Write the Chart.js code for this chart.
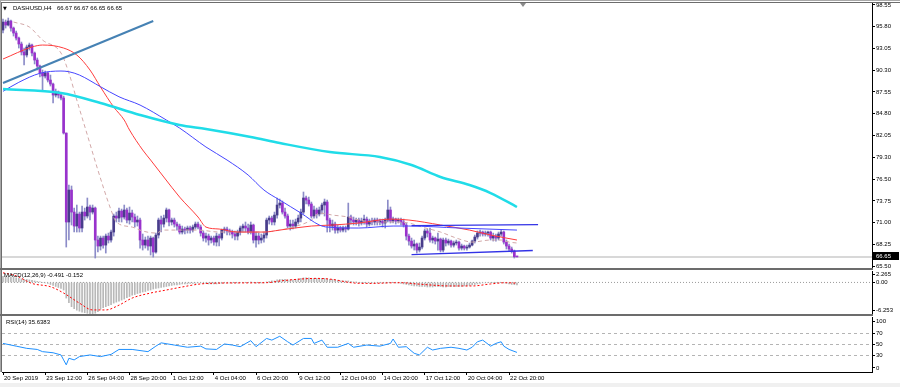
<!DOCTYPE html>
<html>
<head>
<meta charset="utf-8">
<script src="https://cdn.jsdelivr.net/npm/chart.js@4.4.1/dist/chart.umd.min.js"></script>
<style>
  html, body { margin: 0; padding: 0; background: #fff; }
  #wrap { position: relative; width: 900px; height: 387px; overflow: hidden; background: #fff; font-family: "Liberation Sans", Arial, sans-serif; }
  canvas { position: absolute; left: 0; }
  .ln { position: absolute; }
  .lbl { position: absolute; font-size: 6px; line-height: 8px; color: #000; white-space: pre; }
  .shift { position: absolute; left: 520px; top: 3px; width: 0; height: 0; border-left: 3px solid transparent; border-right: 3px solid transparent; border-top: 4px solid #8a8a8a; }
</style>
</head>
<body>
<div id="wrap">
  <canvas id="price" width="900" height="270" style="top:0"></canvas>
  <canvas id="macd" width="900" height="46" style="top:270px"></canvas>
  <canvas id="rsi" width="900" height="71" style="top:316px"></canvas>

  <div class="ln" style="left:0;top:0;width:900px;height:1px;background:#a8a8a8"></div>
  <div class="ln" style="left:0;top:2px;width:900px;height:1px;background:#6c6c6c"></div>
  <div class="ln" style="left:0;top:0;width:1px;height:372px;background:#a8a8a8"></div>
  <div class="ln" style="left:1px;top:2px;width:1px;height:370px;background:#6c6c6c"></div>
  <div class="ln" style="left:0;top:268px;width:873px;height:2px;background:#6c6c6c"></div>
  <div class="ln" style="left:0;top:314px;width:873px;height:2px;background:#6c6c6c"></div>
  <div class="ln" style="left:0;top:383px;width:900px;height:4px;background:#f0f0f0"></div>
  <div class="shift"></div>

  <div class="lbl" style="left:3px;top:4px;font-family:'DejaVu Sans';font-size:5px">▼</div>
  <div class="lbl" style="left:13px;top:4px">DASHUSD,H4</div>
  <div class="lbl" style="left:57px;top:4px">66.67 66.67 66.65 66.65</div>
  <div class="lbl" style="left:4px;top:271px">MACD(12,26,9) -0.491 -0.152</div>
  <div class="lbl" style="left:6px;top:318px">RSI(14) 35.6383</div>
</div>

<script>
// H4 candles, bar 0 = 20 Sep 2019 20:00
const opens = [
  95.38, 96.39, 96.01, 96.52, 95.63, 95.00, 94.37, 93.61, 92.60, 92.22,
  93.23, 93.48, 92.47, 91.58, 90.82, 89.94, 89.56, 89.94, 89.05, 88.54,
  87.15, 87.53, 87.15, 86.77, 82.34, 71.07, 75.12, 72.33, 70.56, 72.08,
  70.31, 72.33, 71.83, 72.97, 72.33, 72.84, 68.79, 68.03, 69.04, 68.15,
  69.29, 68.79, 69.80, 71.83, 71.57, 72.46, 71.70, 72.59, 71.32, 72.21,
  71.70, 71.07, 71.32, 68.79, 68.15, 68.79, 68.03, 69.04, 67.27, 69.42,
  71.32, 70.81, 71.57, 72.59, 71.07, 71.32, 70.81, 70.56, 69.80, 70.18,
  70.05, 70.31, 70.05, 70.43, 70.81, 70.43, 69.67, 69.04, 69.29, 68.79,
  69.04, 68.53, 69.29, 69.04, 70.05, 70.18, 69.93, 69.80, 69.55, 69.29,
  69.80, 70.31, 70.56, 70.31, 69.80, 70.69, 68.79, 69.29, 68.79, 69.04,
  69.42, 71.32, 71.57, 71.07, 71.95, 73.22, 73.47, 72.33, 71.83, 70.56,
  70.81, 70.56, 71.07, 71.57, 72.33, 74.11, 73.85, 73.35, 71.83, 72.59,
  72.08, 72.59, 73.22, 73.60, 71.32, 70.56, 70.81, 70.05, 70.31, 70.05,
  70.31, 70.18, 71.70, 71.32, 71.07, 71.32, 70.94, 71.19, 71.44, 70.81,
  71.19, 71.07, 71.32, 71.07, 71.19, 70.94, 71.32, 72.59, 71.19, 71.44,
  71.19, 71.32, 71.07, 70.69, 69.29, 68.66, 68.03, 68.28, 67.52, 67.90,
  69.04, 69.93, 69.67, 68.79, 69.04, 68.66, 68.91, 67.52, 68.79, 68.41,
  68.66, 68.15, 68.41, 68.53, 67.77, 68.03, 67.77, 67.90, 68.15, 68.66,
  69.17, 69.67, 69.80, 69.55, 69.67, 69.80, 69.04, 69.29, 69.04, 69.55,
  69.80, 68.53, 68.03, 67.65, 67.39, 66.67
];
const highs = [
  96.77, 96.65, 96.90, 96.65, 95.76, 95.25, 94.49, 93.86, 93.10, 93.48,
  93.73, 93.61, 92.60, 91.84, 90.95, 90.32, 90.19, 90.06, 89.68, 88.67,
  87.91, 87.66, 87.40, 87.02, 82.34, 75.75, 75.63, 72.84, 73.22, 72.33,
  73.09, 72.84, 74.11, 73.22, 73.22, 72.97, 69.29, 69.29, 69.29, 69.55,
  69.67, 70.05, 72.08, 72.33, 72.84, 72.71, 73.22, 72.84, 72.97, 72.59,
  72.08, 71.83, 71.57, 69.55, 69.17, 69.29, 69.29, 69.17, 69.67, 71.57,
  71.83, 71.95, 72.84, 72.71, 71.57, 71.57, 71.07, 70.81, 70.56, 70.43,
  70.56, 70.56, 70.69, 71.07, 71.07, 70.69, 69.93, 69.67, 69.55, 69.29,
  69.29, 69.67, 69.55, 70.18, 70.43, 70.43, 70.18, 70.05, 69.93, 70.05,
  70.56, 70.81, 71.07, 70.81, 71.07, 70.81, 69.80, 69.67, 69.55, 69.80,
  71.57, 71.83, 71.83, 72.33, 74.11, 73.98, 73.73, 72.84, 72.08, 71.32,
  71.32, 71.44, 71.95, 72.71, 74.87, 74.36, 74.23, 73.60, 73.09, 72.84,
  72.97, 73.47, 73.98, 73.85, 71.57, 71.32, 71.07, 70.69, 70.56, 70.56,
  70.56, 73.47, 71.95, 71.70, 71.57, 71.57, 71.57, 71.95, 71.70, 71.44,
  71.57, 71.57, 71.57, 71.44, 71.44, 71.57, 73.85, 72.97, 71.70, 71.57,
  71.57, 71.57, 71.44, 70.94, 69.55, 69.04, 68.79, 68.41, 68.41, 69.29,
  70.18, 70.18, 70.31, 69.29, 69.17, 69.67, 69.04, 69.04, 69.04, 68.91,
  68.79, 68.66, 68.79, 68.66, 68.28, 68.15, 68.15, 68.41, 68.79, 69.42,
  69.93, 70.05, 69.93, 69.93, 69.93, 69.93, 69.67, 69.55, 69.80, 70.05,
  69.93, 68.79, 68.28, 67.90, 67.52, 66.67
];
const lows = [
  95.00, 95.63, 95.89, 95.25, 94.62, 94.11, 93.10, 92.22, 90.95, 91.96,
  92.85, 92.09, 91.08, 90.32, 89.43, 87.78, 89.30, 88.80, 88.29, 86.14,
  86.90, 86.77, 86.52, 82.21, 67.90, 68.79, 70.69, 69.80, 69.80, 69.80,
  69.80, 71.32, 71.57, 71.32, 72.08, 66.51, 67.27, 67.52, 67.77, 67.14,
  68.41, 68.53, 69.29, 71.07, 71.07, 71.07, 71.44, 70.94, 70.81, 71.07,
  70.43, 70.56, 67.77, 67.52, 67.77, 67.52, 66.89, 66.63, 67.14, 69.04,
  69.80, 70.43, 71.07, 70.56, 70.69, 70.43, 70.05, 69.55, 69.55, 69.55,
  69.67, 69.67, 69.80, 70.18, 70.18, 69.29, 68.66, 68.53, 68.15, 68.41,
  68.15, 68.03, 68.03, 68.79, 69.67, 69.42, 69.42, 69.04, 68.79, 68.79,
  69.42, 69.80, 69.80, 69.55, 69.55, 68.41, 67.90, 68.28, 68.41, 68.53,
  69.04, 70.81, 70.69, 70.69, 71.57, 72.84, 72.08, 71.57, 70.31, 70.05,
  70.18, 70.31, 70.81, 71.07, 72.08, 73.35, 73.09, 71.57, 71.57, 71.57,
  71.83, 72.08, 71.83, 69.80, 69.80, 70.05, 69.67, 69.67, 69.80, 69.80,
  69.80, 70.05, 70.81, 70.69, 70.69, 70.56, 70.69, 70.81, 70.43, 70.56,
  70.69, 70.69, 70.69, 70.69, 70.43, 70.31, 71.07, 70.94, 70.94, 70.81,
  70.94, 70.69, 70.43, 68.79, 68.15, 67.77, 67.52, 67.14, 67.27, 67.65,
  68.79, 69.17, 68.53, 68.41, 68.28, 67.52, 67.27, 67.27, 68.03, 68.15,
  67.90, 67.90, 68.15, 67.52, 67.52, 67.52, 67.52, 67.77, 68.03, 68.41,
  68.91, 69.29, 69.29, 69.29, 69.29, 68.79, 68.66, 68.66, 68.79, 69.29,
  68.28, 67.65, 67.39, 67.14, 66.51, 66.65
];
const closes = [
  96.39, 96.01, 96.52, 95.63, 95.00, 94.37, 93.61, 92.60, 92.22, 93.23,
  93.48, 92.47, 91.58, 90.82, 89.94, 89.56, 89.94, 89.05, 88.54, 87.15,
  87.53, 87.15, 86.77, 82.34, 71.07, 75.12, 72.33, 70.56, 72.08, 70.31,
  72.33, 71.83, 72.97, 72.33, 72.84, 68.79, 68.03, 69.04, 68.15, 69.29,
  68.79, 69.80, 71.83, 71.57, 72.46, 71.70, 72.59, 71.32, 72.21, 71.70,
  71.07, 71.32, 68.79, 68.15, 68.79, 68.03, 69.04, 67.27, 69.42, 71.32,
  70.81, 71.57, 72.59, 71.07, 71.32, 70.81, 70.56, 69.80, 70.18, 70.05,
  70.31, 70.05, 70.43, 70.81, 70.43, 69.67, 69.04, 69.29, 68.79, 69.04,
  68.53, 69.29, 69.04, 70.05, 70.18, 69.93, 69.80, 69.55, 69.29, 69.80,
  70.31, 70.56, 70.31, 69.80, 70.69, 68.79, 69.29, 68.79, 69.04, 69.42,
  71.32, 71.57, 71.07, 71.95, 73.22, 73.47, 72.33, 71.83, 70.56, 70.81,
  70.56, 71.07, 71.57, 72.33, 74.11, 73.85, 73.35, 71.83, 72.59, 72.08,
  72.59, 73.22, 73.60, 71.32, 70.56, 70.81, 70.05, 70.31, 70.05, 70.31,
  70.18, 71.70, 71.32, 71.07, 71.32, 70.94, 71.19, 71.44, 70.81, 71.19,
  71.07, 71.32, 71.07, 71.19, 70.94, 71.32, 72.59, 71.19, 71.44, 71.19,
  71.32, 71.07, 70.69, 69.29, 68.66, 68.03, 68.28, 67.52, 67.90, 69.04,
  69.93, 69.67, 68.79, 69.04, 68.66, 68.91, 67.52, 68.79, 68.41, 68.66,
  68.15, 68.41, 68.53, 67.77, 68.03, 67.77, 67.90, 68.15, 68.66, 69.17,
  69.67, 69.80, 69.55, 69.67, 69.80, 69.04, 69.29, 69.04, 69.55, 69.80,
  68.53, 68.03, 67.65, 67.39, 66.67, 66.65
];
const lastPrice = 66.65;

// moving averages, read at [bar, price]
const maSlow = [[0,87.91],[22,87.40],[37,86.14],[52,84.62],[67,83.35],[77,82.84],[94,81.83],[105,81.07],
  [124,79.93],[143,79.30],[155,78.29],[166,76.77],[177,75.75],[185,74.74],[195,72.97]];
const maBlue = [[0,87.62],[6,88.76],[14,89.90],[22,90.19],[25,90.10],[29,89.68],[37,88.20],[44,86.93],
  [52,85.88],[62,83.98],[67,82.97],[77,80.57],[85,78.92],[93,77.02],[99,75.12],[105,73.85],[113,72.21],
  [120,70.69],[123,70.43],[135,70.31],[148,70.56],[154,70.56],[173,70.31],[195,70.05]];
const maRed = [[0,91.71],[11,93.23],[15,93.48],[23,93.10],[28,92.22],[33,90.32],[37,88.16],[42,85.63],
  [46,83.98],[48,82.72],[53,80.19],[56,78.92],[61,76.77],[67,74.23],[74,71.70],[77,70.43],[82,70.18],
  [89,69.80],[99,69.80],[105,70.05],[117,70.56],[125,70.69],[135,70.94],[147,71.44],[154,71.32],
  [166,70.69],[177,70.05],[185,69.42],[195,68.79]];
const maFast = [[4,96.39],[10,95.76],[15,94.11],[22,92.47],[25,89.94],[28,86.52],[32,82.09],[36,77.65],
  [41,72.59],[43,71.07],[49,70.43],[53,69.93],[58,69.67],[61,70.05],[68,70.05],[74,70.05],[82,69.80],
  [99,69.80],[105,70.05],[110,70.43],[117,71.32],[120,72.21],[125,71.95],[131,71.70],[135,71.32],
  [142,71.07],[148,71.07],[154,70.94],[159,70.43],[166,69.80],[172,69.04],[178,68.53],[185,68.79],
  [189,68.79],[192,68.53],[195,68.41]];

// drawn objects
const trendLine = [[0,88.67],[57,96.52]];
const chanTop = [[155,70.62],[203,70.75]];
const chanBottom = [[155,66.95],[201,67.46]];

// MACD(12,26,9)
const macdMain = [
  1.2, 1.2, 1.1, 1.1, 1.0, 0.9, 0.8, 0.7, 0.6, 0.6,
  0.5, 0.4, 0.3, 0.2, 0.1, 0.0, -0.1, -0.2, -0.4, -0.6,
  -0.8, -1.0, -1.2, -1.5, -3.1, -4.0, -4.8, -5.2, -5.5, -5.7,
  -5.9, -6.0, -6.1, -6.2, -6.25, -6.1, -5.8, -5.3, -5.0, -4.8,
  -4.6, -4.4, -4.1, -3.9, -3.7, -3.5, -3.3, -3.0, -2.8, -2.5,
  -2.4, -2.2, -2.1, -1.9, -1.8, -1.6, -1.5, -1.3, -1.2, -1.1,
  -1.0, -0.9, -0.8, -0.7, -0.6, -0.5, -0.5, -0.4, -0.3, -0.3,
  -0.3, -0.2, -0.2, -0.2, -0.1, -0.1, -0.2, -0.2, -0.3, -0.3,
  -0.3, -0.3, -0.2, -0.2, -0.1, -0.1, -0.1, -0.1, -0.1, -0.1,
  0.0, 0.0, 0.0, 0.0, 0.1, 0.0, -0.1, -0.1, -0.1, -0.1,
  0.1, 0.2, 0.3, 0.3, 0.5, 0.6, 0.6, 0.6, 0.5, 0.5,
  0.5, 0.6, 0.7, 0.8, 0.9, 0.9, 0.9, 0.8, 0.8, 0.8,
  0.8, 0.8, 0.8, 0.7, 0.6, 0.6, 0.5, 0.4, 0.3, 0.3,
  0.3, 0.3, 0.2, 0.1, 0.1, 0.0, 0.0, 0.0, -0.1, -0.1,
  -0.1, -0.1, -0.1, -0.1, -0.1, -0.1, 0.0, 0.0, 0.0, -0.1,
  -0.1, -0.2, -0.3, -0.4, -0.5, -0.6, -0.7, -0.7, -0.8, -0.8,
  -0.8, -0.9, -0.9, -0.9, -0.8, -0.8, -0.8, -0.9, -0.9, -0.8,
  -0.8, -0.8, -0.8, -0.8, -0.8, -0.7, -0.7, -0.6, -0.5, -0.4,
  -0.3, -0.2, -0.1, -0.1, 0.0, 0.0, 0.0, 0.0, 0.0, 0.0,
  -0.1, -0.2, -0.3, -0.4, -0.45, -0.491
];
const macdSignal = [[0,1.9],[5,1.3],[11,-0.2],[18,-0.85],[23,-2.1],[29,-4.1],[34,-5.45],[39,-5.45],
  [44,-4.5],[49,-3.1],[56,-2.1],[62,-1.5],[68,-0.9],[75,-0.3],[87,-0.1],[100,-0.05],[106,0.35],
  [119,0.8],[125,0.6],[132,-0.05],[138,-0.2],[151,-0.05],[157,-0.3],[170,-0.7],[178,-0.7],
  [185,-0.3],[191,-0.05],[195,-0.152]];

// RSI(14)
const rsiIdx = [0,5,9,13,15,19,22,23,24,25,27,29,33,37,41,44,49,55,58,60,65,70,75,77,81,84,87,90,94,96,
  100,102,105,108,110,114,117,118,121,123,127,131,133,138,143,147,148,150,153,156,158,161,163,166,170,
  173,176,178,180,182,185,187,189,190,192,195];
const rsiVal = [52,47,43,41,37,35,31,22,13,25,22,28,31,28,32,41,41,37,47,53,49,45,47,42,41,51,49,46,57,46,
  61,58,65,55,49,61,61,52,58,45,45,52,45,49,47,52,60,45,46,34,31,45,40,43,45,43,40,45,55,58,
  47,52,55,47,41,35.6383];
const rsiLevels = [30, 50, 70];

// axes
const priceTicks = [65.50, 68.25, 71.00, 73.75, 76.50, 79.30, 82.05, 84.80, 87.55, 90.30, 93.05, 95.80, 98.55];
const macdTicks = [-6.253, 0, 2.265];
const macdTickLabels = ['-6.253', '0.00', '2.265'];
const rsiTicks = [0, 30, 50, 70, 100];
const timeIdx = [0, 16, 32, 48, 64, 80, 96, 112, 128, 144, 160, 176, 192];
const timeLabels = ['20 Sep 2019', '23 Sep 12:00', '26 Sep 04:00', '28 Sep 20:00', '1 Oct 12:00', '4 Oct 04:00',
  '6 Oct 20:00', '9 Oct 12:00', '12 Oct 04:00', '14 Oct 20:00', '17 Oct 12:00', '20 Oct 04:00', '22 Oct 20:00'];

const xMin = -0.38, xMax = 329.7;
const font = { family: '"Liberation Sans", Arial, sans-serif', size: 6 };
const bull = '#483d8b', bear = '#9932cc', wick = '#8c8cc8';

const pts = arr => arr.map(([x, y]) => ({ x, y }));
const flat = v => [{ x: xMin, y: v }, { x: xMax, y: v }];
const line = (data, color, width, extra) => Object.assign({
  type: 'line', data, borderColor: color, borderWidth: width, pointRadius: 0, order: 1
}, extra || {});

const noPad = s => { s.paddingTop = 0; s.paddingBottom = 0; s.paddingLeft = 0; s.paddingRight = 0; };

function rightAxis(min, max, tickVals, label) {
  return {
    position: 'right', min, max,
    afterFit: s => { s.width = 28; noPad(s); },
    afterBuildTicks: s => { s.ticks = tickVals.map(v => ({ value: v })); },
    ticks: { autoSkip: false, font, color: '#000', padding: 1, callback: label },
    grid: { drawOnChartArea: false, tickLength: 3, color: '#000' },
    border: { color: '#000' }
  };
}
const hiddenX = { type: 'linear', min: xMin, max: xMax, offset: false, display: false };
const base = { animation: false, responsive: false, events: [],
  plugins: { legend: { display: false }, tooltip: { enabled: false } } };

const priceTag = {
  id: 'priceTag',
  afterDraw(chart) {
    const { ctx, chartArea: a, scales: { y } } = chart;
    const py = Math.round(y.getPixelForValue(lastPrice));
    ctx.save();
    ctx.fillStyle = '#000';
    ctx.fillRect(a.right + 1, py - 5, 26, 8);
    ctx.fillStyle = '#fff';
    ctx.font = '6px "Liberation Sans", Arial';
    ctx.textBaseline = 'middle';
    ctx.fillText(lastPrice.toFixed(2), a.right + 4, py - 1);
    ctx.restore();
  }
};

new Chart(document.getElementById('price'), {
  type: 'bar',
  data: {
    datasets: [
      line(pts(trendLine), '#4682b4', 2),
      line(pts(chanTop), '#3232e6', 1.3),
      line(pts(chanBottom), '#3232e6', 1.3),
      line(pts(maSlow), '#20dce8', 2.5, { cubicInterpolationMode: 'monotone', order: 2 }),
      line(pts(maBlue), '#4646ff', 1, { cubicInterpolationMode: 'monotone', order: 2 }),
      line(pts(maRed), '#ff3c3c', 1, { cubicInterpolationMode: 'monotone', order: 2 }),
      line(pts(maFast), '#d2a8a8', 1, { cubicInterpolationMode: 'monotone', borderDash: [4, 3], order: 2 }),
      {
        type: 'bar', order: 5, grouped: false, barThickness: 2, minBarLength: 1,
        data: opens.map((o, i) => ({ x: i, y: [o, closes[i]] })),
        backgroundColor: c => closes[c.dataIndex] >= opens[c.dataIndex] ? bull : bear
      },
      {
        type: 'bar', order: 6, grouped: false, barThickness: 1,
        data: highs.map((h, i) => ({ x: i, y: [lows[i], h] })),
        backgroundColor: wick
      },
      line(flat(lastPrice), '#d8d8d8', 2, { order: 9 })
    ]
  },
  options: Object.assign({}, base, {
    layout: { padding: { left: 2, top: 3, right: 0, bottom: 2 } },
    scales: {
      x: hiddenX,
      y: rightAxis(65.247, 98.803, priceTicks, v => v.toFixed(2))
    }
  }),
  plugins: [priceTag]
});

new Chart(document.getElementById('macd'), {
  type: 'bar',
  data: {
    datasets: [
      line(pts(macdSignal), '#ff0000', 1, { borderDash: [2, 2], cubicInterpolationMode: 'monotone' }),
      { type: 'bar', order: 5, grouped: false, barThickness: 1, backgroundColor: '#b8b8b8',
        data: macdMain.map((v, i) => ({ x: i, y: v })) },
      line(flat(0), '#9a9a9a', 1, { borderDash: [1, 2], order: 9 })
    ]
  },
  options: Object.assign({}, base, {
    layout: { padding: { left: 2, top: 1, right: 0, bottom: 2 } },
    scales: {
      x: hiddenX,
      y: Object.assign(rightAxis(-6.253, 2.265, [], (v, i) => macdTickLabels[i]), {
        afterBuildTicks: s => { s.ticks = macdTicks.map(v => ({ value: Math.min(Math.max(v, s.min + 0.65), s.max - 0.65) })); }
      })
    }
  })
});

new Chart(document.getElementById('rsi'), {
  type: 'line',
  data: {
    datasets: [
      line(rsiIdx.map((x, i) => ({ x, y: rsiVal[i] })), '#1e90ff', 1),
      ...rsiLevels.map(v => line(flat(v), '#b4b4b4', 1, { borderDash: [3, 3], order: 9 }))
    ]
  },
  options: Object.assign({}, base, {
    layout: { padding: { left: 2, top: 1, right: 0, bottom: 0 } },
    scales: {
      x: {
        type: 'linear', min: xMin, max: xMax, offset: false, position: 'bottom',
        afterFit: s => { s.height = 15; noPad(s); },
        afterBuildTicks: s => { s.ticks = timeIdx.map(v => ({ value: v })); },
        ticks: { autoSkip: false, maxRotation: 0, minRotation: 0, align: 'start', labelOffset: 1, padding: 0,
          font, color: '#000', callback: (v, i) => timeLabels[i] },
        grid: { drawOnChartArea: false, tickLength: 3, color: '#000' },
        border: { color: '#000' }
      },
      y: Object.assign(rightAxis(0, 100, [], v => String(Math.round(v) < 10 ? 0 : Math.round(v) > 90 ? 100 : Math.round(v))), {
        afterBuildTicks: s => { s.ticks = rsiTicks.map(v => ({ value: Math.min(Math.max(v, s.min + 7.5), s.max - 7.5) })); }
      })
    }
  })
});
</script>
</body>
</html>
